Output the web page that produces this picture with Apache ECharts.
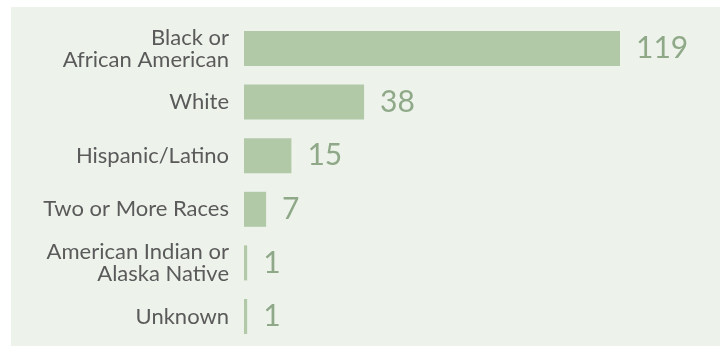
<!DOCTYPE html>
<html><head><meta charset="utf-8">
<script src="https://cdn.jsdelivr.net/npm/echarts@6/dist/echarts.min.js"></script>
<style>html,body{margin:0;padding:0;background:#fff;}#c{width:720px;height:346px;}</style>
</head><body><div id="c"></div>
<script>
const categories = ["Black or\nAfrican American", "White", "Hispanic/Latino", "Two or More Races", "American Indian or\nAlaska Native", "Unknown"];
const values = [119, 38, 15, 7, 1, 1];

const chart = echarts.init(document.getElementById('c'), null, {renderer: 'canvas'});
chart.setOption({
  animation: false,
  backgroundColor: '#ffffff',
  graphic: [{type: 'rect', shape: {x: 11, y: 7, width: 709, height: 339}, style: {fill: '#edf2eb'}, z: -10}],
  grid: {left: 244, right: 100, top: 21.7, bottom: 2.7, containLabel: false},
  xAxis: {type: 'value', min: 0, max: 119, show: false},
  yAxis: {
    type: 'category', data: categories, inverse: true,
    axisLine: {show: false}, axisTick: {show: false}, splitLine: {show: false},
    axisLabel: {fontFamily: 'Lato', fontSize: 22, lineHeight: 22, color: '#5a5a5a', margin: 15, align: 'right'}
  },
  series: [{
    type: 'bar', data: values, barWidth: 35,
    itemStyle: {color: '#b1c9a7'},
    label: {show: true, position: 'right', distance: 16, fontFamily: 'Lato', fontSize: 30, color: '#8fa988'}
  }]
});
</script></body></html>
